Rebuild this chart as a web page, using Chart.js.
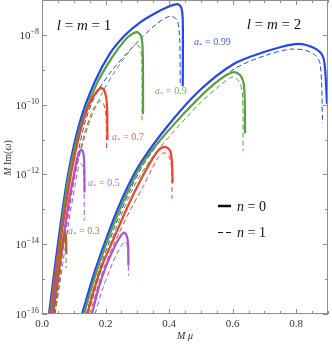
<!DOCTYPE html>
<html>
<head>
<meta charset="utf-8">
<script src="https://cdn.jsdelivr.net/npm/chart.js@4"></script>
<style>
  html, body { margin: 0; padding: 0; background: #fff; }
  canvas { display: block; }
</style>
</head>
<body>
<canvas id="chart" width="332" height="345"></canvas>
<script>
// curves: [M mu, log10(M Im omega)]
// l = m = 1
const l1a099n0 = [[0.022,-16],[0.050,-14.0],[0.082,-12.0],[0.120,-10.47],[0.167,-9.33],[0.214,-8.53],[0.261,-8.01],[0.309,-7.64],[0.356,-7.38],[0.394,-7.21],[0.425,-7.12],[0.438,-7.21],[0.443,-7.61],[0.443,-9.47]];
const l1a099n1 = [[0.031,-16],[0.063,-14.0],[0.101,-12.01],[0.132,-10.61],[0.167,-9.75],[0.214,-9.09],[0.268,-8.52],[0.318,-8.04],[0.356,-7.72],[0.387,-7.52],[0.406,-7.47],[0.425,-7.58],[0.433,-8.04],[0.435,-9.47]];
const l1a09n0 = [[0.025,-16],[0.054,-14.0],[0.085,-12.0],[0.126,-10.47],[0.173,-9.39],[0.220,-8.65],[0.261,-8.15],[0.283,-7.98],[0.299,-7.92],[0.312,-8.04],[0.317,-8.47],[0.318,-10.27]];
const l1a09n1 = [[0.035,-16],[0.066,-14.0],[0.104,-12.0],[0.145,-10.61],[0.189,-9.67],[0.230,-9.04],[0.261,-8.64],[0.283,-8.38],[0.296,-8.27],[0.309,-8.38],[0.314,-8.75],[0.315,-10.47]];
const l1a07n0 = [[0.028,-16],[0.057,-14.0],[0.091,-12.0],[0.123,-10.67],[0.148,-10.01],[0.167,-9.69],[0.186,-9.52],[0.197,-9.61],[0.204,-9.95],[0.206,-11.01]];
const l1a07n1 = [[0.038,-16],[0.069,-14.0],[0.104,-12.0],[0.132,-10.89],[0.157,-10.21],[0.170,-10.01],[0.183,-9.89],[0.194,-9.98],[0.201,-10.32],[0.203,-11.27]];
const l1a05n0 = [[0.031,-16],[0.060,-14.32],[0.085,-12.75],[0.104,-11.84],[0.113,-11.47],[0.123,-11.29],[0.130,-11.38],[0.133,-11.75],[0.134,-12.52]];
const l1a05n1 = [[0.041,-16],[0.066,-14.52],[0.088,-13.15],[0.104,-12.32],[0.113,-11.87],[0.122,-11.69],[0.129,-11.78],[0.132,-12.12],[0.133,-13.32]];
const l1a03n0 = [[0.035,-16],[0.050,-15.04],[0.061,-14.18],[0.068,-13.78],[0.072,-13.67],[0.0755,-13.78],[0.0765,-14.04],[0.0765,-14.27]];
const l1a03n1 = [[0.041,-16],[0.054,-15.18],[0.061,-14.41],[0.066,-14.04],[0.071,-13.95],[0.075,-14.12],[0.076,-14.69]];
// l = m = 2
const l2a099n0 = [[0.126,-16],[0.167,-14.75],[0.214,-13.55],[0.261,-12.52],[0.309,-11.69],[0.391,-10.66],[0.494,-9.61],[0.602,-8.84],[0.706,-8.47],[0.791,-8.27],[0.831,-8.29],[0.872,-8.47],[0.888,-8.75],[0.897,-9.98]];
const l2a099n1 = [[0.139,-16],[0.180,-14.75],[0.227,-13.55],[0.274,-12.52],[0.321,-11.69],[0.403,-10.69],[0.504,-9.70],[0.608,-8.96],[0.706,-8.58],[0.781,-8.41],[0.828,-8.44],[0.860,-8.58],[0.876,-8.86],[0.883,-10.53]];
const l2a09n0 = [[0.132,-16],[0.173,-14.75],[0.220,-13.55],[0.268,-12.52],[0.315,-11.69],[0.394,-10.78],[0.494,-9.81],[0.561,-9.27],[0.602,-9.07],[0.624,-9.16],[0.636,-9.48],[0.639,-10.82]];
const l2a09n1 = [[0.145,-16],[0.186,-14.75],[0.233,-13.55],[0.280,-12.52],[0.328,-11.75],[0.403,-10.89],[0.498,-9.95],[0.561,-9.44],[0.598,-9.21],[0.617,-9.30],[0.630,-9.62],[0.633,-11.33]];
const l2a07n0 = [[0.142,-16],[0.183,-14.75],[0.230,-13.75],[0.271,-12.89],[0.309,-12.18],[0.340,-11.67],[0.365,-11.32],[0.387,-11.21],[0.403,-11.32],[0.409,-11.67],[0.411,-12.24]];
const l2a07n1 = [[0.151,-16],[0.192,-14.75],[0.239,-13.75],[0.280,-12.98],[0.318,-12.35],[0.346,-11.84],[0.365,-11.52],[0.384,-11.38],[0.400,-11.49],[0.408,-11.84],[0.409,-12.70]];
const l2a05n0 = [[0.157,-16],[0.180,-15.2],[0.205,-14.55],[0.228,-14.08],[0.245,-13.80],[0.258,-13.67],[0.267,-13.77],[0.271,-14.0],[0.272,-14.61]];
const l2a05n1 = [[0.167,-16],[0.190,-15.3],[0.213,-14.74],[0.235,-14.28],[0.251,-14.02],[0.261,-13.92],[0.268,-14.02],[0.271,-14.28],[0.272,-14.9]];

const spinLabels = ['0.99', '0.9', '0.7', '0.5', '0.3'];
const xTickLabels = ['0.0', '0.2', '0.4', '0.6', '0.8'];
const yTickExps = [-16, -14, -12, -10, -8];

const colors = { '0.99': '#2346f2', '0.9': '#58a03a', '0.7': '#ee412c', '0.5': '#a256dc', '0.3': '#9c6a2c' };

// which curve goes with which spin / overtone
const curves = [
  [l2a05n1, '0.5', 1], [l2a05n0, '0.5', 0],
  [l2a07n1, '0.7', 1], [l2a07n0, '0.7', 0],
  [l2a09n1, '0.9', 1], [l2a09n0, '0.9', 0],
  [l2a099n1, '0.99', 1], [l2a099n0, '0.99', 0],
  [l1a03n1, '0.3', 1], [l1a03n0, '0.3', 0],
  [l1a05n1, '0.5', 1], [l1a05n0, '0.5', 0],
  [l1a07n1, '0.7', 1], [l1a07n0, '0.7', 0],
  [l1a09n1, '0.9', 1], [l1a09n0, '0.9', 0],
  [l1a099n1, '0.99', 1], [l1a099n0, '0.99', 0]
];

const toPts = arr => arr.map(([x, e]) => ({ x: x, y: Math.pow(10, e) }));

const datasets = curves.map(([arr, spin, n]) => ({
  data: toPts(arr),
  borderColor: colors[spin],
  borderWidth: n === 0 ? 2.2 : 1,
  borderDash: n === 0 ? [] : [5, 3],
  pointRadius: 0,
  tension: 0.3,
  fill: false
}));

const SERIF = '"Liberation Serif", "DejaVu Serif", serif';

// draws a row of text pieces with their own fonts
function drawRich(ctx, parts, x, y, align) {
  let w = 0;
  parts.forEach(p => { ctx.font = p.font; w += ctx.measureText(p.t).width; });
  let cx = align === 'right' ? x - w : align === 'center' ? x - w / 2 : x;
  ctx.textAlign = 'left';
  ctx.textBaseline = 'alphabetic';
  parts.forEach(p => {
    ctx.font = p.font;
    ctx.fillText(p.t, cx, y + (p.dy || 0));
    cx += ctx.measureText(p.t).width;
  });
}

const framePlugin = {
  id: 'frame',
  afterDraw: (chart) => {
    const ctx = chart.ctx;
    const a = chart.chartArea;
    const xs = chart.scales.x;
    const ys = chart.scales.y;
    ctx.save();

    // frame
    ctx.strokeStyle = '#8e8e8e';
    ctx.lineWidth = 1;
    ctx.strokeRect(Math.round(a.left) + 0.5, Math.round(a.top) + 0.5, Math.round(a.right - a.left) - 1, Math.round(a.bottom - a.top) - 1);

    // ticks pointing inward
    ctx.beginPath();
    for (let i = 0; i <= 18; i++) {
      const px = Math.round(xs.getPixelForValue(i * 0.05)) + 0.5;
      const len = i % 4 === 0 ? 5 : 3;
      ctx.moveTo(px, a.bottom); ctx.lineTo(px, a.bottom - len);
      ctx.moveTo(px, a.top); ctx.lineTo(px, a.top + len);
    }
    for (let e = -16; e <= -7; e++) {
      const py = Math.round(ys.getPixelForValue(Math.pow(10, e))) + 0.5;
      const len = e % 2 === 0 ? 5 : 3;
      ctx.moveTo(a.left, py); ctx.lineTo(a.left + len, py);
      ctx.moveTo(a.right, py); ctx.lineTo(a.right - len, py);
    }
    ctx.stroke();

    // tick labels
    ctx.fillStyle = '#333';
    xTickLabels.forEach(t => {
      const px = xs.getPixelForValue(parseFloat(t));
      drawRich(ctx, [{ t: t, font: '11px ' + SERIF }], px, a.bottom + 13, 'center');
    });
    yTickExps.forEach(e => {
      const py = ys.getPixelForValue(Math.pow(10, e));
      drawRich(ctx, [
        { t: '10', font: '11px ' + SERIF },
        { t: '\u2212' + Math.abs(e), font: '8px ' + SERIF, dy: -5 }
      ], a.left - 3, py + 4, 'right');
    });

    // axis titles
    drawRich(ctx, [
      { t: 'M', font: 'italic 10px ' + SERIF },
      { t: ' \u03bc', font: 'italic 10px ' + SERIF }
    ], 185, 339, 'center');
    ctx.save();
    ctx.translate(11, 158);
    ctx.rotate(-Math.PI / 2);
    drawRich(ctx, [
      { t: 'M', font: 'italic 10px ' + SERIF },
      { t: ' Im(', font: '10px ' + SERIF },
      { t: '\u03c9', font: 'italic 10px ' + SERIF },
      { t: ')', font: '10px ' + SERIF }
    ], 0, 0, 'center');
    ctx.restore();

    // family titles
    ctx.fillStyle = '#111';
    drawRich(ctx, [
      { t: 'l', font: 'italic 15px ' + SERIF },
      { t: ' = ', font: '15px ' + SERIF },
      { t: 'm', font: 'italic 15px ' + SERIF },
      { t: ' = 1', font: '15px ' + SERIF }
    ], 84, 30, 'center');
    drawRich(ctx, [
      { t: 'l', font: 'italic 15px ' + SERIF },
      { t: ' = ', font: '15px ' + SERIF },
      { t: 'm', font: 'italic 15px ' + SERIF },
      { t: ' = 2', font: '15px ' + SERIF }
    ], 274, 29, 'center');

    // spin labels
    const spinPos = { '0.99': [194, 45], '0.9': [155, 94], '0.7': [112, 140], '0.5': [88, 186], '0.3': [68, 234] };
    spinLabels.forEach(s => {
      ctx.fillStyle = colors[s];
      ctx.globalAlpha = 0.85;
      drawRich(ctx, [
        { t: 'a', font: 'italic 10px ' + SERIF },
        { t: '*', font: '7px ' + SERIF, dy: 2 },
        { t: ' = ' + s, font: '10px ' + SERIF }
      ], spinPos[s][0], spinPos[s][1], 'left');
      ctx.globalAlpha = 1;
    });

    // legend
    ctx.strokeStyle = '#111';
    ctx.lineWidth = 2.5;
    ctx.beginPath();
    ctx.moveTo(218, 206); ctx.lineTo(231, 206);
    ctx.stroke();
    ctx.lineWidth = 1;
    ctx.beginPath();
    ctx.moveTo(218, 232.5); ctx.lineTo(223, 232.5);
    ctx.moveTo(226, 232.5); ctx.lineTo(231, 232.5);
    ctx.stroke();
    ctx.fillStyle = '#111';
    [['0', 211], ['1', 237]].forEach(([n, y]) => {
      drawRich(ctx, [
        { t: 'n', font: 'italic 14px ' + SERIF },
        { t: ' = ' + n, font: '14px ' + SERIF }
      ], 237, y, 'left');
    });

    ctx.restore();
  }
};

new Chart(document.getElementById('chart').getContext('2d'), {
  type: 'line',
  data: { datasets: datasets },
  options: {
    responsive: false,
    animation: false,
    devicePixelRatio: 1,
    layout: { padding: { top: 0, right: 4, left: 0, bottom: 0 } },
    plugins: { legend: { display: false }, tooltip: { enabled: false } },
    scales: {
      x: {
        type: 'linear', min: 0, max: 0.9,
        ticks: { display: false },
        grid: { display: false },
        border: { display: false },
        afterFit: (s) => { s.height = 31; }
      },
      y: {
        type: 'logarithmic', min: 1e-16, max: 1e-7,
        ticks: { display: false },
        grid: { display: false },
        border: { display: false },
        afterFit: (s) => { s.width = 42; }
      }
    }
  },
  plugins: [framePlugin]
});
</script>
</body>
</html>
